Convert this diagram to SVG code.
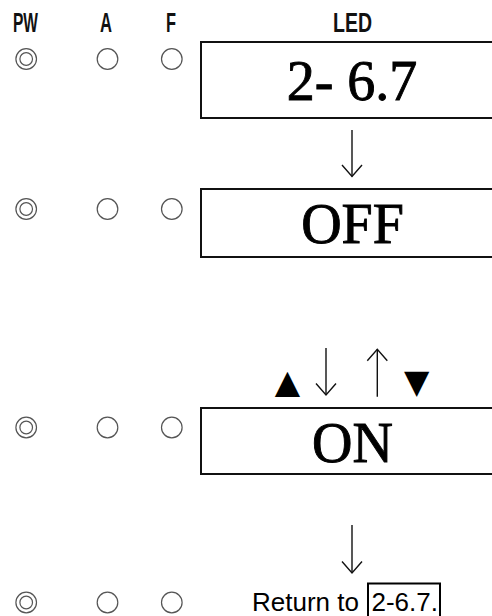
<svg xmlns="http://www.w3.org/2000/svg" width="492" height="616" viewBox="0 0 492 616">
<style>
.hdr{font-family:"Liberation Sans",Arial,sans-serif;font-size:27px;font-weight:bold;fill:#111;}
.led{font-family:"Liberation Serif","Times New Roman",serif;font-size:56px;fill:#000;stroke:#000;stroke-width:0.9;text-anchor:middle;}
.box{fill:#fff;stroke:#111;stroke-width:2;}
.lamp{fill:none;stroke:#555;stroke-width:1.2;}
.conn{fill:none;stroke:#111;stroke-width:1.4;}
.tri{font-family:"DejaVu Sans",sans-serif;font-size:33px;fill:#000;text-anchor:middle;}
.ret{font-family:"Liberation Sans",Arial,sans-serif;font-size:26px;fill:#000;}
</style>
<defs>
<marker id="chev" viewBox="-14 -12 16 24" refX="0" refY="0" markerWidth="16" markerHeight="24" markerUnits="userSpaceOnUse" orient="auto">
<path d="M -11.5 -10 L 0 0 L -11.5 10" fill="none" stroke="#111" stroke-width="1.4"/>
</marker>
</defs>
<rect width="492" height="616" fill="#fff"/>
<g id="headers">
<text class="hdr" x="13" y="32" textLength="25" lengthAdjust="spacingAndGlyphs">PW</text>
<text class="hdr" x="100" y="32" textLength="12" lengthAdjust="spacingAndGlyphs">A</text>
<text class="hdr" x="166" y="32" textLength="10" lengthAdjust="spacingAndGlyphs">F</text>
<text class="hdr" x="333" y="32" textLength="39" lengthAdjust="spacingAndGlyphs">LED</text>
</g>
<g id="lamps-row1">
<circle class="lamp" cx="26.2" cy="59" r="10.3"/><circle class="lamp" cx="26.2" cy="59" r="6.3"/>
<circle class="lamp" cx="107.5" cy="59" r="10.3"/>
<circle class="lamp" cx="171.8" cy="59" r="10.3"/>
</g>
<g id="lamps-row2">
<circle class="lamp" cx="26.2" cy="209" r="10.3"/><circle class="lamp" cx="26.2" cy="209" r="6.3"/>
<circle class="lamp" cx="107.5" cy="209" r="10.3"/>
<circle class="lamp" cx="171.8" cy="209" r="10.3"/>
</g>
<g id="lamps-row3">
<circle class="lamp" cx="26.2" cy="427.5" r="10.3"/><circle class="lamp" cx="26.2" cy="427.5" r="6.3"/>
<circle class="lamp" cx="107.5" cy="427.5" r="10.3"/>
<circle class="lamp" cx="171.8" cy="427.5" r="10.3"/>
</g>
<g id="lamps-row4">
<circle class="lamp" cx="26.2" cy="602.5" r="10.3"/><circle class="lamp" cx="26.2" cy="602.5" r="6.3"/>
<circle class="lamp" cx="107.5" cy="602.5" r="10.3"/>
<circle class="lamp" cx="171.8" cy="602.5" r="10.3"/>
</g>
<g id="led1">
<rect class="box" x="201" y="42" width="300" height="76"/>
<text class="led" x="352" y="100">2- 6.7</text>
</g>
<g id="led2">
<rect class="box" x="201" y="189" width="300" height="68"/>
<text class="led" x="352.5" y="243">OFF</text>
</g>
<g id="led3">
<rect class="box" x="201" y="408" width="300" height="66"/>
<text class="led" x="352.5" y="462">ON</text>
</g>
<g id="keys">
<text class="tri" x="287.5" y="393">▲</text>
<text class="tri" x="416.7" y="393">▼</text>
</g>
<g id="connectors">
<path class="conn" d="M 352 130 L 352 176.5" marker-end="url(#chev)"/>
<path class="conn" d="M 326 348 L 326 395" marker-end="url(#chev)"/>
<path class="conn" d="M 377.3 396.7 L 377.3 349.3" marker-end="url(#chev)"/>
<path class="conn" d="M 352 525 L 352 573" marker-end="url(#chev)"/>
</g>
<g id="return">
<text class="ret" x="252" y="611">Return to <tspan x="371.5">2-6.7.</tspan></text>
<rect x="368" y="583.5" width="72" height="40" fill="none" stroke="#000" stroke-width="2"/>
</g>
</svg>
